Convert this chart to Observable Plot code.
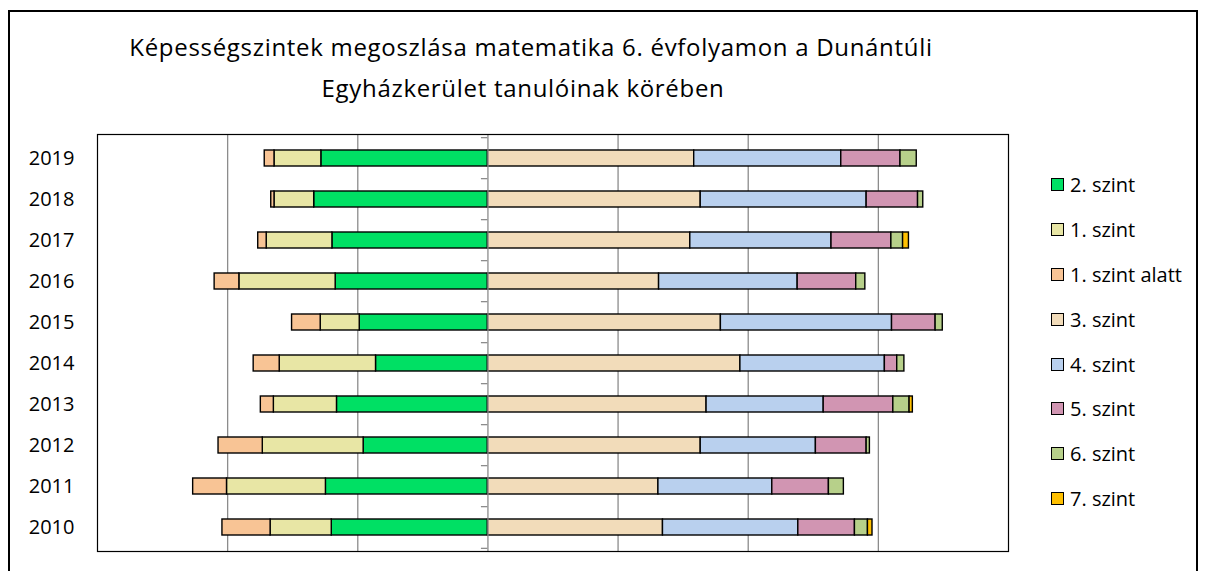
<!DOCTYPE html>
<html><head><meta charset="utf-8">
<script src="https://cdn.jsdelivr.net/npm/d3@7"></script>
<script src="https://cdn.jsdelivr.net/npm/@observablehq/plot@0.6"></script>
<style>
body{margin:0;background:#fff;font-family:"Open Sans",sans-serif;overflow:hidden;width:1205px;height:571px;}
#frame{position:absolute;left:8px;top:10px;width:1190px;height:620px;border:2px solid #000;box-sizing:border-box;}
.tl{position:absolute;text-align:center;font-size:24px;line-height:41px;letter-spacing:0.7px;color:#000;white-space:nowrap;}
#t1{left:31px;top:26px;width:1000px;}
#t2{left:23px;top:67px;width:1000px;}
#chart{position:absolute;left:0;top:114px;}
#legend{position:absolute;left:1051px;top:162px;font-size:20px;color:#000;}
.item{height:44.9px;display:flex;align-items:center;}
.sw{width:11px;height:11px;border:1.5px solid #000;margin-right:6px;}
</style>
</head><body>
<div id="frame"></div>
<div id="t1" class="tl">Képességszintek megoszlása matematika 6. évfolyamon a Dunántúli</div>
<div id="t2" class="tl">Egyházkerület tanulóinak körében</div>
<div id="chart"></div>
<div id="legend"></div>
<script>
const years = ["2019","2018","2017","2016","2015","2014","2013","2012","2011","2010"];
const levels = ["2. szint","1. szint","1. szint alatt","3. szint","4. szint","5. szint","6. szint","7. szint"];
const colors = ["#00e064","#e8e6a5","#f8c495","#f2dcba","#b9d0ee","#d195b2","#b7d08a","#ffc000"];
// percentages per year (order of years array); first three levels are drawn to the left
const szint2 = [25.6, 26.7, 23.9, 23.4, 19.7, 17.2, 23.2, 19.1, 24.9, 24.0];
const szint1 = [7.2, 6.1, 10.1, 14.8, 6.0, 14.8, 9.7, 15.5, 15.2, 9.4];
const szint1alatt = [1.5, 0.5, 1.3, 3.8, 4.4, 4.0, 2.0, 6.8, 5.2, 7.4];
const szint3 = [31.7, 32.7, 31.1, 26.3, 35.8, 38.8, 33.6, 32.7, 26.2, 26.9];
const szint4 = [22.6, 25.5, 21.7, 21.3, 26.3, 22.2, 18.0, 17.7, 17.5, 20.8];
const szint5 = [9.1, 7.9, 9.2, 9.0, 6.7, 1.9, 10.7, 7.8, 8.7, 8.7];
const szint6 = [2.5, 0.8, 1.8, 1.4, 1.1, 1.1, 2.5, 0.5, 2.3, 2.0];
const szint7 = [0, 0, 0.9, 0, 0, 0, 0.5, 0, 0, 0.7];
const gridValues = [-40, -20, 20, 40, 60];

const series = [szint2, szint1, szint1alatt, szint3, szint4, szint5, szint6, szint7];
const leftCount = 3;
const data = [];
years.forEach((year, i) => {
  series.forEach((s, j) => {
    if (s[i] > 0) data.push({year, level: levels[j], value: j < leftCount ? -s[i] : s[i]});
  });
});

const W = 1205, H = 457, mt = 20, mb = 20;
const step = (H - mt - mb) / years.length;

const chart = Plot.plot({
  width: W, height: H,
  marginLeft: 97, marginRight: 197, marginTop: mt, marginBottom: mb,
  style: {fontFamily: "Open Sans", fontSize: "20px", color: "#000", background: "transparent"},
  x: {domain: [-60, 80], axis: null},
  y: {domain: years, paddingInner: 0.6, paddingOuter: 0.3, axis: null},
  color: {domain: levels, range: colors},
  marks: [
    Plot.ruleX(gridValues, {stroke: "#8c8c8c", strokeWidth: 1.3}),
    Plot.barX(data, Plot.stackX({x: "value", y: "year", fill: "level", z: "level", order: levels, stroke: "#000", strokeWidth: 1.4})),
    Plot.ruleX([0], {stroke: "#8c8c8c", strokeWidth: 1.3}),
    Plot.ruleY(years, {y: d => d, x1: -1, x2: 0, dy: -step / 2, stroke: "#8c8c8c", strokeWidth: 1.3}),
    Plot.ruleY(years.slice(-1), {y: d => d, x1: -1, x2: 0, dy: step / 2, stroke: "#8c8c8c", strokeWidth: 1.3}),
    Plot.frame({stroke: "#000", strokeWidth: 1.2}),
    Plot.axisY({tickSize: 0, tickPadding: 23, fontSize: 20, label: null, textAnchor: "end"})
  ]
});
document.getElementById("chart").appendChild(chart);

const legend = document.getElementById("legend");
levels.forEach((lv, i) => {
  const it = document.createElement("div");
  it.className = "item";
  const sw = document.createElement("div");
  sw.className = "sw";
  sw.style.background = colors[i];
  const t = document.createElement("span");
  t.textContent = lv;
  it.appendChild(sw); it.appendChild(t);
  legend.appendChild(it);
});
</script>
</body></html>
